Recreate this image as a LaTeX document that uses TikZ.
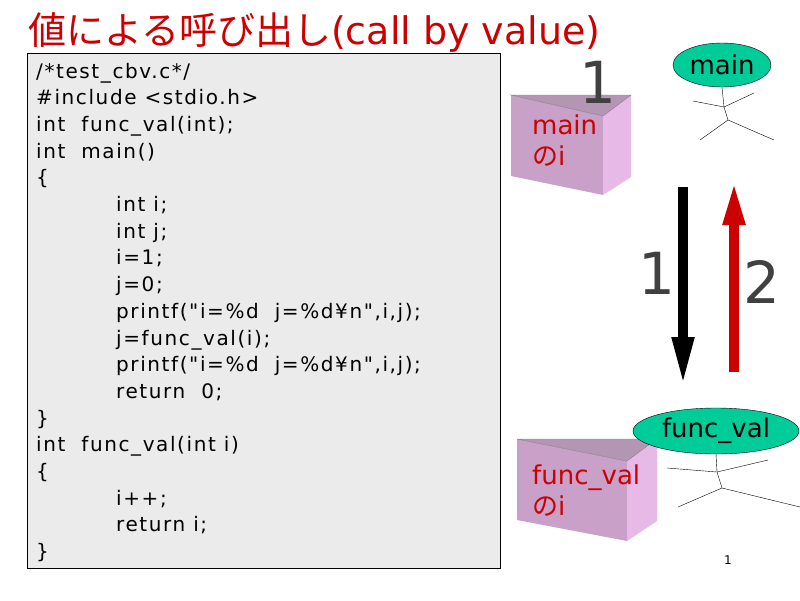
\documentclass[tikz,border=0pt]{standalone}
\usepackage{fontspec}
\setmainfont{DejaVu Sans}
\newfontfamily\cjk{Noto Sans CJK JP}
\newfontfamily\codefont[LetterSpace=8]{DejaVu Sans}
\usetikzlibrary{arrows.meta,shapes.geometric}
\definecolor{boxfront}{RGB}{200,160,200}
\definecolor{boxside}{RGB}{230,185,230}
\definecolor{boxtop}{RGB}{180,150,180}
\definecolor{headfill}{RGB}{0,204,153}
\definecolor{titlered}{RGB}{204,0,0}
\tikzset{
  codeline/.style={anchor=base west, inner sep=0pt, font=\codefont\fontsize{20}{20}\selectfont},
  head/.style={ellipse, draw, fill=headfill, inner sep=0pt, font=\fontsize{26}{26}\selectfont},
  bigdigit/.style={font=\fontsize{58}{58}\selectfont, inner sep=0pt, text=black!75},
  boxlabel/.style={text=titlered, anchor=north west, align=left, inner sep=0pt, font=\fontsize{26}{31}\selectfont}
}
\begin{document}
\begin{tikzpicture}[x=1pt,y=-1pt]
	\useasboundingbox (0,0) rectangle (800,600);
	\node[anchor=base west, inner sep=0pt, text=titlered, font=\fontsize{38}{38}\selectfont] (title) at (28,44) {{\cjk 値による呼び出し}(call by value)};
	% code listing
	\draw[fill=black!8] (27,53) rectangle (500,568);
	\foreach \txt/\ind [count=\n] in {
		{/*test\_cbv.c*/}/0, {\#include <stdio.h>}/0, {int\ \ func\_val(int);}/0, {int\ \ main()}/0, {\{}/0,
		{int i;}/1, {int j;}/1, {i=1;}/1, {j=0;}/1, {printf("i=\%d\ \ j=\%d¥n",i,j);}/1,
		{j=func\_val(i);}/1, {printf("i=\%d\ \ j=\%d¥n",i,j);}/1, {return\ \ 0;}/1, {\}}/0,
		{int\ \ func\_val(int i)}/0, {\{}/0, {i++;}/1, {return i;}/1, {\}}/0}
		\node[codeline] (l\n) at ({36+80*\ind},{78+26.7*(\n-1)}) {\txt};
	% variable boxes
	\filldraw[fill=boxfront, draw=none] (511,95) -- (603,116) -- (603,195) -- (511,176) -- cycle;
	\filldraw[fill=boxside, draw=none] (603,116) -- (631,95) -- (631,177) -- (603,195) -- cycle;
	\filldraw[fill=boxtop, draw=gray] (511,95) -- (631,95) -- (603,116) -- cycle;
	\node[boxlabel] (mainbox) at (532,115) {main\\{\cjk の}i};
	\node[bigdigit] (one) at (598,82) {1};
	\filldraw[fill=boxfront, draw=none] (517,439) -- (627,461) -- (627,541) -- (517,520) -- cycle;
	\filldraw[fill=boxside, draw=none] (627,461) -- (657,440) -- (657,521) -- (627,541) -- cycle;
	\filldraw[fill=boxtop, draw=gray] (517,439) -- (657,439) -- (627,461) -- cycle;
	\node[boxlabel] (funcbox) at (532,465) {func\_val\\{\cjk の}i};
	% stick figures
	\node[head, minimum width=98, minimum height=44] (mainhead) at (722,65) {main};
	\draw (mainhead.south) -- (724,107) coordinate (mneck) -- (728,120) coordinate (mhip);
	\draw (693,101) -- (mneck) -- (754,93);
	\draw (700,140) -- (mhip) -- (774,140);
	\node[head, minimum width=166, minimum height=46] (funchead) at (716,431) {func\_val};
	\draw (funchead.south) -- (717,472) coordinate (fneck) -- (722,488) coordinate (fhip);
	\draw (667,468) -- (fneck) -- (768,460);
	\draw (678,507) -- (fhip) -- (800,507);
	% call and return arrows
	\coordinate (calltop) at (683,187);
	\coordinate (callend) at (683,387);
	\coordinate (rettop) at (734,180);
	\coordinate (retend) at (734,372);
	\draw[line width=10pt, -{Triangle[width=20pt,length=50pt]}] (calltop) -- (callend);
	\draw[line width=10pt, titlered, -{Triangle[width=20pt,length=45pt]}] (retend) -- (rettop);
	\node[bigdigit] (step1) at (657,273) {1};
	\node[bigdigit] (step2) at (762,282) {2};
	\node[font=\fontsize{12}{12}\selectfont, inner sep=0pt] (page) at (728,560) {1};
\end{tikzpicture}
\end{document}
